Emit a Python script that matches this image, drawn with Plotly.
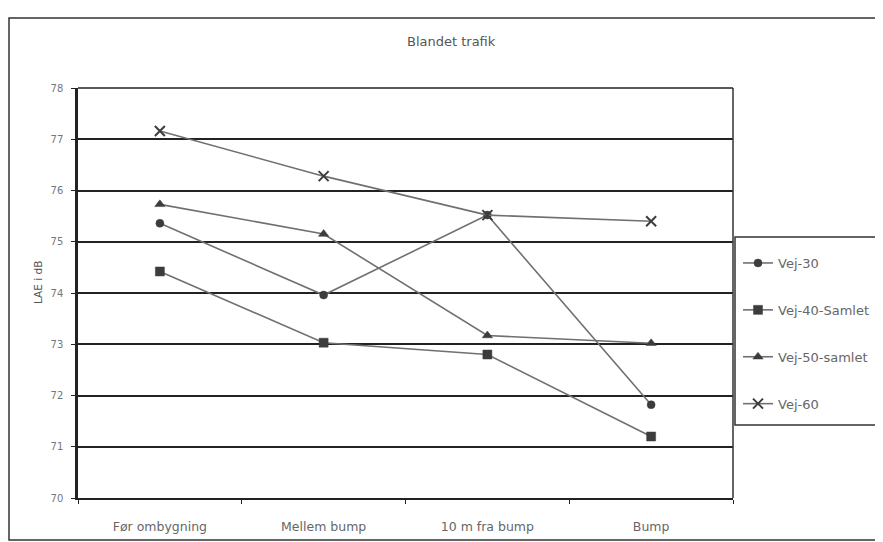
import plotly.graph_objects as go

categories = ["Før ombygning", "Mellem bump", "10 m fra bump", "Bump"]
series_names = ["Vej-30", "Vej-40-Samlet", "Vej-50-samlet", "Vej-60"]
vej30 = [75.36, 73.96, 75.52, 71.82]
vej40 = [74.42, 73.03, 72.80, 71.20]
vej50 = [75.73, 75.15, 73.17, 73.02]
vej60 = [77.16, 76.28, 75.52, 75.40]
y_ticks = [70, 71, 72, 73, 74, 75, 76, 77, 78]

OFF = 8  # page body margin
W, H = 883 - OFF, 542 - OFF
L, R, T, B = 78 - OFF, 733 - OFF, 88 - OFF, 498 - OFF


def px(x):
    return (x - OFF - L) / (R - L)


def py(y):
    return (B - (y - OFF)) / (B - T)


symbols = ["circle", "square", "triangle-up", "x-thin-open"]
sizes = [8, 9, 9, 10]
data = [vej30, vej40, vej50, vej60]

FONT = "DejaVu Sans, Arial, sans-serif"

fig = go.Figure()
for i, (name, vals) in enumerate(zip(series_names, data)):
    fig.add_trace(go.Scatter(
        x=categories, y=vals, name=name, mode="lines+markers",
        line=dict(color="#707070", width=1.6),
        marker=dict(symbol=symbols[i], size=sizes[i], color="#3c3c3c",
                    line=dict(color="#3c3c3c", width=2 if i == 3 else 0.5)),
        legendgroup=f"g{i}",
    ))

fig.update_layout(
    width=W, height=H,
    margin=dict(l=L, r=W - R, t=T, b=H - B, autoexpand=False),
    paper_bgcolor="white", plot_bgcolor="white",
    font=dict(family=FONT, color="#555555", size=11),
    showlegend=True,
    legend=dict(x=px(738), y=py(248), xanchor="left", yanchor="top",
                bgcolor="rgba(0,0,0,0)", borderwidth=0,
                font=dict(size=13, color="#666666"),
                tracegroupgap=27, itemwidth=30),
    xaxis=dict(range=[-0.5, 3.5], showgrid=False, showline=True,
               linecolor="#222222", linewidth=2, mirror=False,
               ticks="outside", tickson="boundaries", ticklen=4,
               tickcolor="#222222", tickfont=dict(size=12.5, color="#666666"),
               ticklabelstandoff=16, zeroline=False),
    yaxis=dict(range=[70, 78], tickvals=y_ticks, showgrid=True,
               gridcolor="#222222", gridwidth=1.6, showline=True,
               linecolor="#222222", linewidth=2.5, ticks="outside", ticklen=4,
               tickcolor="#222222", tickfont=dict(size=10, color="#777777"),
               ticklabelstandoff=6, zeroline=False),
    shapes=[
        dict(type="rect", xref="paper", yref="paper",
             x0=px(9), x1=px(930), y0=py(540), y1=py(18),
             line=dict(color="#333333", width=1.5), layer="below"),
        dict(type="line", xref="paper", yref="paper",
             x0=1, x1=1, y0=0, y1=1, line=dict(color="#333333", width=1.5)),
        dict(type="line", xref="paper", yref="paper",
             x0=0, x1=1, y0=1, y1=1, line=dict(color="#222222", width=1.6)),
        dict(type="rect", xref="paper", yref="paper",
             x0=px(735), x1=px(930), y0=py(425), y1=py(237),
             line=dict(color="#333333", width=1.5)),
    ],
    annotations=[
        dict(text="Blandet trafik", xref="paper", yref="paper",
             x=px(451), y=py(42), xanchor="center", yanchor="middle",
             showarrow=False, font=dict(size=13, color="#555555")),
        dict(text="LAE i dB", xref="paper", yref="paper",
             x=px(38), y=py(283), xanchor="center", yanchor="middle",
             showarrow=False, textangle=-90,
             font=dict(size=10.5, color="#555555")),
    ],
)

fig.write_html("out.html")
